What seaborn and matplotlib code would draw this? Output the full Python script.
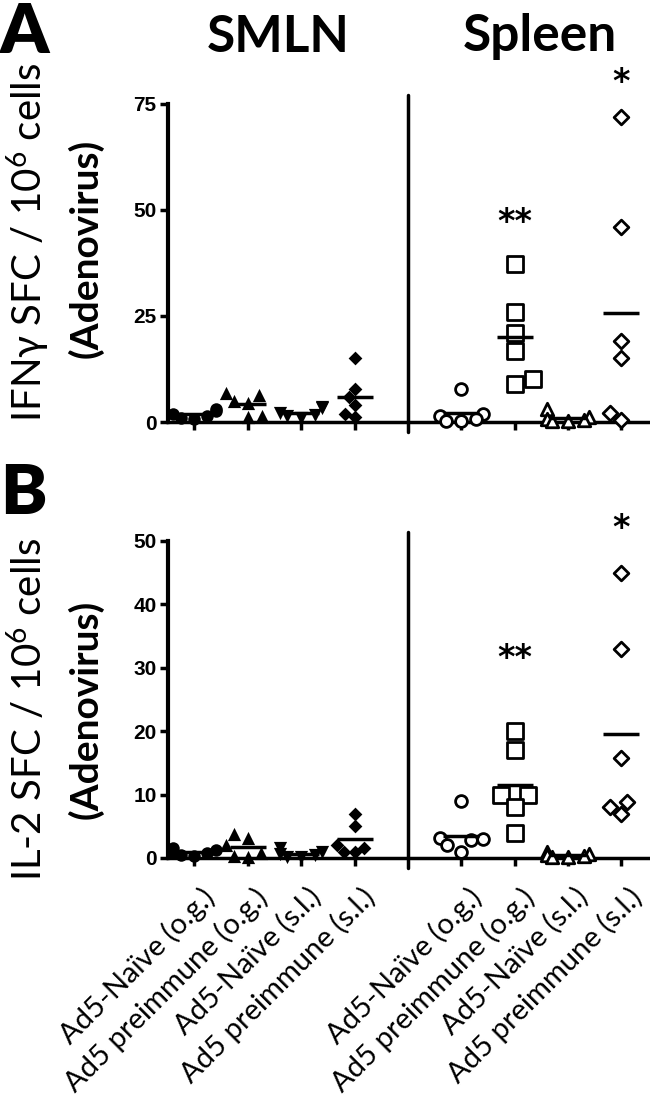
import numpy as np
import pandas as pd
import matplotlib
matplotlib.use("Agg")
import matplotlib.pyplot as plt
import matplotlib.transforms as mtransforms
import seaborn as sns

# ------------------------------------------------------------------
# data (SFC / 10^6 cells)
# ------------------------------------------------------------------
groups = ["Ad5-Naïve (o.g.)", "Ad5 preimmune (o.g.)",
          "Ad5-Naïve (s.l.)", "Ad5 preimmune (s.l.)"]
tissues = ["SMLN", "Spleen"]

ifng_smln = [[3.0, 2.6, 2.0, 1.5, 1.0, 0.6],
             [6.8, 6.4, 4.9, 4.5, 1.5, 1.2],
             [3.6, 3.4, 2.2, 1.6, 1.4, 1.0],
             [15.0, 7.8, 5.9, 4.0, 1.8, 1.2]]
ifng_spleen = [[7.9, 1.8, 1.4, 0.8, 0.3, 0.2],
               [37.3, 25.9, 21.0, 16.7, 10.1, 9.0],
               [3.0, 1.2, 0.8, 0.5, 0.3, 0.2],
               [72.0, 46.0, 19.0, 15.0, 2.2, 0.5]]

il2_smln = [[1.5, 1.2, 1.0, 0.8, 0.5, 0.3],
            [3.8, 3.2, 2.0, 0.8, 0.3, 0.2],
            [1.5, 1.0, 0.6, 0.4, 0.2, 0.1],
            [7.0, 5.0, 2.0, 1.5, 1.0, 1.0]]
il2_spleen = [[9.0, 3.2, 3.0, 2.8, 2.0, 1.0],
              [20.0, 17.0, 10.0, 10.0, 8.0, 4.0],
              [1.0, 0.6, 0.4, 0.3, 0.2, 0.1],
              [45.0, 33.0, 15.8, 8.8, 8.0, 6.9]]

# significance marks: (group index in spleen, label, y value)
ifng_stars = [(1, "**", 47), (3, "*", 80)]
il2_stars = [(1, "**", 31.5), (3, "*", 52)]

ifng_ticks = [0, 25, 50, 75]
il2_ticks = [0, 10, 20, 30, 40, 50]

smln_markers = ["o", "^", "v", "D"]
spleen_markers = ["o", "s", "^", "D"]
smln_sizes = [9, 9.5, 9.5, 7]
spleen_sizes = [8.5, 11, 9, 7.5]

# category order with an empty slot between tissues
order = [f"SMLN|{g}" for g in groups] + ["gap"] + \
        [f"Spleen|{g}" for g in groups]


def make_df(smln, spleen):
    rows = []
    for tissue, vals in zip(tissues, [smln, spleen]):
        for g, v in zip(groups, vals):
            for x in v:
                rows.append({"cat": f"{tissue}|{g}", "tissue": tissue,
                             "group": g, "value": x})
    return pd.DataFrame(rows)


sns.set_style("white")
plt.rcParams["font.family"] = ["Lato", "DejaVu Sans"]
plt.rcParams["mathtext.fontset"] = "custom"
plt.rcParams["mathtext.rm"] = "Lato"
plt.rcParams["mathtext.it"] = "Lato:italic"
plt.rcParams["mathtext.bf"] = "Lato:bold"
for key in ["text.color", "axes.labelcolor", "xtick.color", "ytick.color",
            "axes.edgecolor"]:
    plt.rcParams[key] = "black"

fig = plt.figure(figsize=(6.5, 10.97), dpi=100)
axA = fig.add_axes([0.258, 0.6153, 0.739, 0.2981])
axB = fig.add_axes([0.258, 0.2179, 0.739, 0.2971])

tick_font = dict(family=["Liberation Sans Narrow", "Liberation Sans"],
                 weight="bold", size=15)


def draw_panel(ax, df, ticks, stars, ytop):
    for i, g in enumerate(groups):
        sub = df[(df.group == g) & (df.tissue == "SMLN")]
        sns.swarmplot(data=sub, x="cat", y="value", order=order, ax=ax,
                      marker=smln_markers[i], color="black",
                      size=smln_sizes[i], linewidth=0, zorder=3,
                      clip_on=False)
        sub = df[(df.group == g) & (df.tissue == "Spleen")]
        sns.swarmplot(data=sub, x="cat", y="value", order=order, ax=ax,
                      marker=spleen_markers[i], color="white",
                      edgecolor="black", linewidth=2,
                      size=spleen_sizes[i], zorder=3, clip_on=False)
    sns.pointplot(data=df, x="cat", y="value", order=order, ax=ax,
                  estimator="mean", errorbar=None, color="black",
                  markers="_", linestyles="none", markersize=26,
                  markeredgewidth=2.5, zorder=4)
    ax.set_xlim(-0.5, 8.5)
    ax.set_ylim(0, ytop)
    ax.set_yticks(ticks)
    ax.spines["left"].set_bounds(ticks[0], ticks[-1])
    ax.spines["top"].set_visible(False)
    ax.spines["right"].set_visible(False)
    ax.spines["left"].set_linewidth(3)
    ax.spines["bottom"].set_linewidth(2.5)
    ax.axvline(4, ymin=-0.03, ymax=1, color="black", lw=2.5,
               clip_on=False)
    ax.tick_params(axis="y", length=6, width=2.5, pad=2, direction="out",
                   left=True, colors="black")
    ax.tick_params(axis="x", length=6, width=2.5, direction="out",
                   bottom=True, colors="black")
    for lbl in ax.get_yticklabels():
        lbl.set_fontproperties(tick_font)
    for gi, label, y in stars:
        ax.text(5 + gi, y, label, ha="center", va="center", fontsize=24,
                family="DejaVu Sans", fontweight="bold", color="black")
    ax.set_xlabel("")
    ax.set_ylabel("")


dfA = make_df(ifng_smln, ifng_spleen)
dfB = make_df(il2_smln, il2_spleen)
draw_panel(axA, dfA, ifng_ticks, ifng_stars, 77.1)
draw_panel(axB, dfB, il2_ticks, il2_stars, 51.4)

xt = [0, 1, 2, 3, 5, 6, 7, 8]
axA.set_xticks(xt)
axA.set_xticklabels([])
axB.set_xticks(xt)
axB.set_xticklabels(groups * 2, rotation=45, ha="right", va="top",
                    rotation_mode="anchor", fontsize=21, color="black")
shift = mtransforms.ScaledTranslation(0.06, -0.12, fig.dpi_scale_trans)
for lbl in axB.get_xticklabels():
    lbl.set_transform(lbl.get_transform() + shift)

# titles and panel letters
fig.text(0.428, 0.987, "SMLN", ha="center", va="top", fontsize=37,
         fontweight="bold")
fig.text(0.831, 0.988, "Spleen", ha="center", va="top", fontsize=37,
         fontweight="bold")
fig.text(0.0, 0.998, "A", ha="left", va="top", fontsize=50,
         fontweight="heavy")
fig.text(0.0, 0.578, "B", ha="left", va="top", fontsize=50,
         fontweight="heavy")

# y labels
fig.text(0.043, 0.779, "IFNγ SFC / 10$^{6}$ cells", rotation=90,
         ha="center", va="center", fontsize=29)
fig.text(0.132, 0.774, "(Adenovirus)", rotation=90, ha="center",
         va="center", fontsize=28, fontweight="bold")
fig.text(0.043, 0.353, "IL-2 SFC / 10$^{6}$ cells", rotation=90,
         ha="center", va="center", fontsize=29)
fig.text(0.132, 0.353, "(Adenovirus)", rotation=90, ha="center",
         va="center", fontsize=28, fontweight="bold")

fig.savefig("out.png", dpi=100)
